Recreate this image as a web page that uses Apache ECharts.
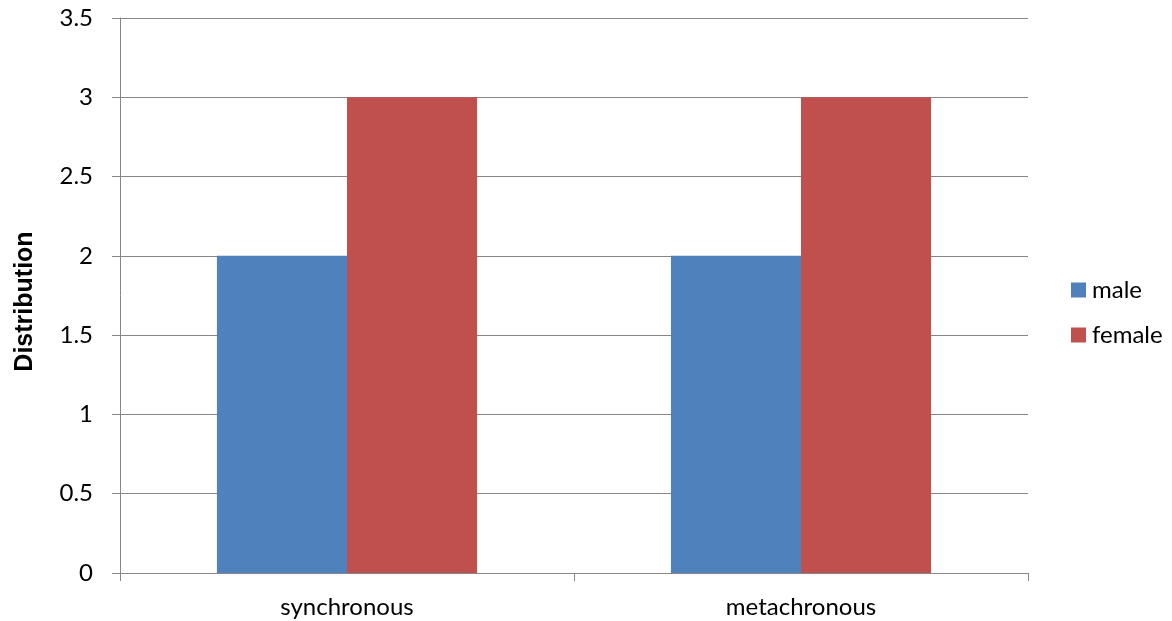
<!DOCTYPE html>
<html>
<head>
<meta charset="utf-8">
<script src="https://cdn.jsdelivr.net/npm/echarts@6/dist/echarts.min.js"></script>
<style>
  html, body { margin: 0; padding: 0; background: #fff; }
  #chart { width: 1172px; height: 621px; }
</style>
</head>
<body>
<div id="chart"></div>
<script>
// Categories and series values
const categories = ['synchronous', 'metachronous'];
const maleValues = [2, 2];
const femaleValues = [3, 3];
const seriesNames = ['male', 'female'];

const gridColor = '#868686';
const labelFont = 'Lato, "Open Sans", sans-serif';

const chart = echarts.init(document.getElementById('chart'), null, { renderer: 'canvas' });
chart.setOption({
  animation: false,
  backgroundColor: '#ffffff',
  grid: { left: 120, right: 144, top: 18, bottom: 48, containLabel: false },
  legend: {
    orient: 'vertical',
    left: 1071,
    top: 278,
    padding: 0,
    itemWidth: 15,
    itemHeight: 15,
    itemGap: 21,
    icon: 'rect',
    textStyle: { fontFamily: labelFont, fontSize: 24, color: '#000', padding: [0, 0, 0, 1] },
    data: seriesNames
  },
  xAxis: {
    type: 'category',
    data: categories,
    axisLine: { lineStyle: { color: gridColor, width: 1 } },
    axisTick: { show: true, length: 8, alignWithLabel: false, lineStyle: { color: gridColor } },
    axisLabel: { margin: 22, fontFamily: labelFont, fontSize: 24, color: '#000' },
    splitLine: { show: false }
  },
  yAxis: {
    type: 'value',
    min: 0,
    max: 3.5,
    interval: 0.5,
    name: 'Distribution',
    nameLocation: 'middle',
    nameGap: 82,
    nameRotate: 90,
    nameTextStyle: {
      fontFamily: '"Liberation Sans", Arial, sans-serif',
      fontWeight: 'bold',
      fontSize: 25,
      color: '#000',
      padding: [0, 12, 0, 0]
    },
    axisLine: { show: true, lineStyle: { color: gridColor, width: 1 } },
    axisTick: { show: true, length: 8, lineStyle: { color: gridColor } },
    axisLabel: { margin: 27, fontFamily: labelFont, fontSize: 24, color: '#000' },
    splitLine: { show: true, lineStyle: { color: gridColor, width: 1 } }
  },
  series: [
    {
      name: seriesNames[0],
      type: 'bar',
      data: maleValues,
      barGap: '0%',
      barCategoryGap: '42.7%',
      itemStyle: { color: '#4F81BD' }
    },
    {
      name: seriesNames[1],
      type: 'bar',
      data: femaleValues,
      barGap: '0%',
      barCategoryGap: '42.7%',
      itemStyle: { color: '#C0504D' }
    }
  ]
});
</script>
</body>
</html>
